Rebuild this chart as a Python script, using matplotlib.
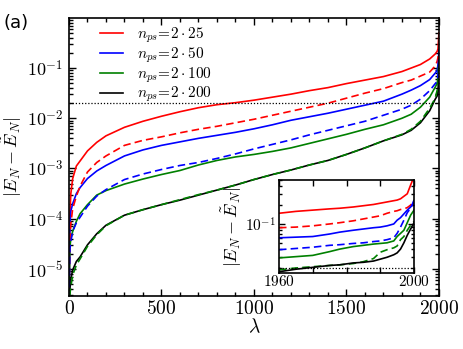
import numpy as np
import matplotlib
matplotlib.use("Agg")
import matplotlib.pyplot as plt
from matplotlib.ticker import FixedLocator, MultipleLocator, LogLocator, FuncFormatter, NullFormatter

plt.rcParams['mathtext.fontset'] = 'cm'

# ---------------- data (stored as log10) ----------------
lam = [0, 5, 10, 20, 40, 60, 100, 150, 200, 300, 400, 500, 600, 700, 800, 900, 1000,
       1100, 1200, 1300, 1400, 1500, 1600, 1700, 1800, 1850, 1900, 1950, 1980, 1990, 1995, 2000]

red_solid_log = [-5.6, -3.9, -3.5, -3.2, -2.95, -2.85, -2.65, -2.48, -2.35, -2.18, -2.06, -1.96,
                 -1.87, -1.79, -1.73, -1.69, -1.64, -1.58, -1.52, -1.45, -1.39, -1.31, -1.24,
                 -1.17, -1.07, -1.00, -0.93, -0.82, -0.72, -0.67, -0.62, -0.30]
red_dash_log = [-5.6, -4.4, -4.1, -3.8, -3.55, -3.35, -3.07, -2.88, -2.75, -2.54, -2.44, -2.37,
                -2.29, -2.22, -2.16, -2.09, -2.02, -1.94, -1.86, -1.78, -1.70, -1.60, -1.50,
                -1.41, -1.29, -1.24, -1.16, -1.08, -0.96, -0.87, -0.79, -0.62]
blue_solid_log = [-5.6, -4.1, -3.85, -3.7, -3.5, -3.38, -3.2, -3.05, -2.94, -2.75, -2.63, -2.54,
                  -2.47, -2.40, -2.34, -2.28, -2.21, -2.13, -2.04, -1.97, -1.90, -1.82, -1.74,
                  -1.66, -1.52, -1.44, -1.35, -1.23, -1.10, -1.05, -0.94, -0.67]
blue_dash_log = [-5.6, -4.6, -4.45, -4.25, -4.08, -3.97, -3.75, -3.55, -3.42, -3.22, -3.11, -3.02,
                 -2.94, -2.88, -2.80, -2.71, -2.61, -2.52, -2.43, -2.33, -2.24, -2.15, -2.06,
                 -1.94, -1.82, -1.74, -1.62, -1.45, -1.31, -1.27, -1.15, -0.62]
green_solid_log = [-5.6, -4.56, -4.4, -4.25, -4.05, -3.9, -3.72, -3.53, -3.44, -3.31, -3.21, -3.12,
                   -3.04, -2.93, -2.84, -2.77, -2.72, -2.66, -2.59, -2.50, -2.41, -2.32, -2.22,
                   -2.13, -2.00, -1.92, -1.78, -1.58, -1.38, -1.31, -1.20, -0.78]
green_dash_log = [-6.0, -5.5, -5.35, -5.12, -4.92, -4.8, -4.55, -4.32, -4.14, -3.93, -3.82, -3.72,
                  -3.62, -3.52, -3.43, -3.33, -3.22, -3.12, -3.03, -2.93, -2.84, -2.72, -2.59,
                  -2.45, -2.32, -2.22, -2.06, -1.80, -1.60, -1.45, -1.35, -0.96]
black_solid_log = [-6.0, -5.4, -5.2, -5.02, -4.85, -4.76, -4.52, -4.3, -4.13, -3.93, -3.82, -3.72,
                   -3.63, -3.53, -3.43, -3.33, -3.22, -3.12, -3.03, -2.93, -2.84, -2.72, -2.59,
                   -2.45, -2.33, -2.24, -2.09, -1.85, -1.62, -1.56, -1.46, -0.98]

inset_lam = [1960, 1965, 1970, 1975, 1978, 1982, 1985, 1988, 1990, 1992, 1994, 1995, 1996,
             1997, 1998, 1999, 2000]
in_red_solid_log = [-0.83, -0.80, -0.78, -0.76, -0.75, -0.73, -0.71, -0.69, -0.67, -0.65, -0.63,
                    -0.62, -0.60, -0.56, -0.52, -0.38, -0.25]
in_red_dash_log = [-1.06, -1.05, -1.03, -1.00, -0.98, -0.95, -0.92, -0.89, -0.87, -0.83, -0.80,
                   -0.79, -0.77, -0.76, -0.74, -0.70, -0.62]
in_blue_solid_log = [-1.22, -1.21, -1.20, -1.16, -1.13, -1.10, -1.08, -1.06, -1.05, -1.03, -1.00,
                     -0.94, -0.90, -0.84, -0.78, -0.73, -0.67]
in_blue_dash_log = [-1.41, -1.39, -1.37, -1.34, -1.33, -1.31, -1.30, -1.28, -1.27, -1.25, -1.22,
                    -1.15, -1.05, -0.94, -0.82, -0.75, -0.62]
in_green_solid_log = [-1.54, -1.52, -1.50, -1.44, -1.40, -1.36, -1.34, -1.32, -1.31, -1.30, -1.27,
                      -1.20, -1.15, -1.10, -0.98, -0.86, -0.78]
in_green_dash_log = [-1.73, -1.70, -1.68, -1.66, -1.65, -1.63, -1.60, -1.55, -1.45, -1.41, -1.38,
                     -1.35, -1.25, -1.20, -1.10, -1.02, -0.96]
in_black_solid_log = [-1.76, -1.72, -1.69, -1.66, -1.65, -1.62, -1.61, -1.59, -1.56, -1.53, -1.49,
                      -1.46, -1.40, -1.30, -1.18, -1.08, -0.98]

threshold = 0.02
legend_labels = [r'$n_{ps}\!=\!2\cdot 25$', r'$n_{ps}\!=\!2\cdot 50$',
                 r'$n_{ps}\!=\!2\cdot 100$', r'$n_{ps}\!=\!2\cdot 200$']
GREEN = (0, 0.5, 0)

# ---------------- figure ----------------
fig = plt.figure(figsize=(4.63, 3.49), dpi=100)
ax = fig.add_axes([0.149, 0.152, 0.799, 0.797])


def p(v):
    return 10.0 ** np.asarray(v)


lw = 1.2
dash = (0, (4.5, 2.5))
ax.plot(lam, p(red_solid_log), color='red', lw=lw, label=legend_labels[0])
ax.plot(lam, p(blue_solid_log), color='blue', lw=lw, label=legend_labels[1])
ax.plot(lam, p(green_solid_log), color=GREEN, lw=lw, label=legend_labels[2])
ax.plot(lam, p(black_solid_log), color='black', lw=lw, label=legend_labels[3])
ax.plot(lam, p(red_dash_log), color='red', lw=lw, ls=dash)
ax.plot(lam, p(blue_dash_log), color='blue', lw=lw, ls=dash)
ax.plot(lam, p(green_dash_log), color=GREEN, lw=lw, ls=dash)
ax.axhline(threshold, color='black', lw=0.9, ls=(0, (1, 1.5)))

ax.set_yscale('log')
ax.set_xlim(0, 2000)
ax.set_ylim(2.9e-6, 1.0)

ax.xaxis.set_major_locator(MultipleLocator(500))
ax.xaxis.set_minor_locator(MultipleLocator(100))
ax.xaxis.set_major_formatter(FuncFormatter(lambda x, pos: r'$%d$' % x))
ax.yaxis.set_major_locator(FixedLocator([1e-5, 1e-4, 1e-3, 1e-2, 1e-1]))
ax.yaxis.set_minor_locator(LogLocator(base=10, subs=np.arange(2, 10), numticks=20))
ax.yaxis.set_major_formatter(FuncFormatter(lambda y, pos: r'$10^{%d}$' % round(np.log10(y))))
ax.yaxis.set_minor_formatter(NullFormatter())
ax.tick_params(which='both', direction='in', top=True, right=True, width=1.0)
ax.tick_params(which='major', length=5)
ax.tick_params(which='minor', length=3)
ax.tick_params(axis='x', labelsize=14, pad=2)
ax.tick_params(axis='y', labelsize=13, pad=4)
for s in ax.spines.values():
    s.set_linewidth(1.2)

ax.set_xlabel(r'$\lambda$', fontsize=14, labelpad=0)
ax.set_ylabel(r'$|E_N-\tilde{E}_N|$', fontsize=13, labelpad=2)

leg = ax.legend(loc='upper left', bbox_to_anchor=(0.083, 0.972), frameon=False, fontsize=11,
                handlelength=1.5, handletextpad=0.95, labelspacing=0.02, borderaxespad=0,
                borderpad=0)

fig.text(0.008, 0.935, '(a)', fontsize=13, va='center', ha='left')

# ---------------- inset ----------------
ins = fig.add_axes([0.6026, 0.2178, 0.2916, 0.2664])
ins.plot(inset_lam, p(in_red_solid_log), color='red', lw=lw)
ins.plot(inset_lam, p(in_red_dash_log), color='red', lw=lw, ls=dash)
ins.plot(inset_lam, p(in_blue_solid_log), color='blue', lw=lw)
ins.plot(inset_lam, p(in_blue_dash_log), color='blue', lw=lw, ls=dash)
ins.plot(inset_lam, p(in_green_solid_log), color=GREEN, lw=lw)
ins.plot(inset_lam, p(in_green_dash_log), color=GREEN, lw=lw, ls=dash)
ins.plot(inset_lam, p(in_black_solid_log), color='black', lw=lw)
ins.axhline(threshold, color='black', lw=0.9, ls=(0, (1, 1.5)))
ins.set_yscale('log')
ins.set_xlim(1960, 2000)
ins.set_ylim(0.0166, 0.5)
ins.xaxis.set_major_locator(MultipleLocator(10))
ins.xaxis.set_major_formatter(FuncFormatter(lambda x, pos: r'$%d$' % x if x in (1960, 2000) else ''))
ins.yaxis.set_major_locator(FixedLocator([0.1]))
ins.yaxis.set_minor_locator(LogLocator(base=10, subs=np.arange(2, 10), numticks=20))
ins.yaxis.set_major_formatter(FuncFormatter(lambda y, pos: r'$10^{%d}$' % round(np.log10(y))))
ins.yaxis.set_minor_formatter(NullFormatter())
ins.tick_params(which='both', direction='in', top=True, right=True, width=1.0)
ins.tick_params(which='major', length=4)
ins.tick_params(which='minor', length=2.5)
ins.tick_params(axis='x', labelsize=11, pad=1)
ins.tick_params(axis='y', labelsize=11, pad=2)
for s in ins.spines.values():
    s.set_linewidth(1.2)
ins.set_ylabel(r'$|E_N-\tilde{E}_N|$', fontsize=13, labelpad=1)

fig.savefig('out.png', dpi=100)
